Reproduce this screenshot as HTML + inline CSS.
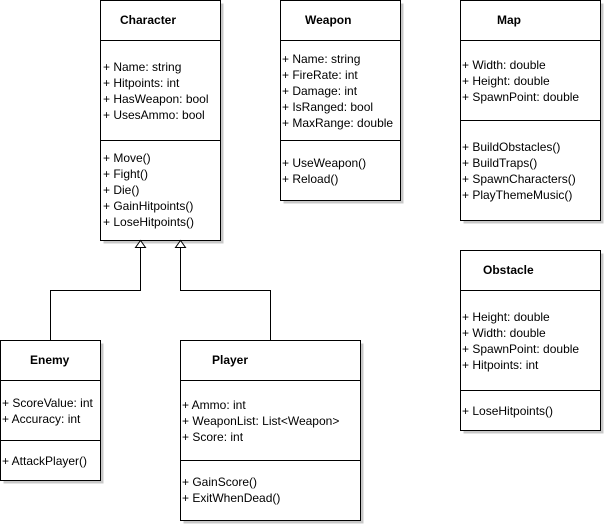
<!DOCTYPE html>
<html><head><meta charset="utf-8"><style>
html,body{margin:0;padding:0;background:#fff;}
svg{display:block;}
text{font-family:"Liberation Sans",Arial,sans-serif;font-size:12px;fill:#000;}
.t{font-weight:bold;font-size:12px;}
</style></head><body>
<svg width="605" height="525" viewBox="0 0 605 525" xmlns="http://www.w3.org/2000/svg">
<g fill="#c8c8c8">
<rect x="103.5" y="3.5" width="120" height="240"/>
<rect x="283.5" y="3.5" width="120" height="200"/>
<rect x="463.5" y="3.5" width="140" height="220"/>
<rect x="463.5" y="253.5" width="140" height="180"/>
<rect x="3.5" y="343.5" width="100" height="140"/>
<rect x="183.5" y="343.5" width="180" height="180"/>
</g>
<g fill="#fff" stroke="#000" stroke-width="1">
<rect x="100.5" y="0.5" width="120" height="240"/>
<line x1="100" y1="40.5" x2="220" y2="40.5"/><line x1="100" y1="140.5" x2="220" y2="140.5"/>
<rect x="280.5" y="0.5" width="120" height="200"/>
<line x1="280" y1="40.5" x2="400" y2="40.5"/><line x1="280" y1="140.5" x2="400" y2="140.5"/>
<rect x="460.5" y="0.5" width="140" height="220"/>
<line x1="460" y1="40.5" x2="600" y2="40.5"/><line x1="460" y1="120.5" x2="600" y2="120.5"/>
<rect x="460.5" y="250.5" width="140" height="180"/>
<line x1="460" y1="290.5" x2="600" y2="290.5"/><line x1="460" y1="390.5" x2="600" y2="390.5"/>
<rect x="0.5" y="340.5" width="100" height="140"/>
<line x1="0" y1="380.5" x2="100" y2="380.5"/><line x1="0" y1="440.5" x2="100" y2="440.5"/>
<rect x="180.5" y="340.5" width="180" height="180"/>
<line x1="180" y1="380.5" x2="360" y2="380.5"/><line x1="180" y1="460.5" x2="360" y2="460.5"/>
</g>
<g fill="none" stroke="#000">
<polyline points="140.5,247 140.5,290.5 50.5,290.5 50.5,340"/>
<polyline points="180.5,247 180.5,290.5 270.5,290.5 270.5,340"/>
<polygon fill="#fff" points="140.5,240.5 135.5,247.5 145.5,247.5"/>
<polygon fill="#fff" points="180.5,240.5 175.5,247.5 185.5,247.5"/>
</g>
<text class="t" x="120" y="24">Character</text>
<text x="103" y="71">+ Name: string</text>
<text x="103" y="87">+ Hitpoints: int</text>
<text x="103" y="103">+ HasWeapon: bool</text>
<text x="103" y="119">+ UsesAmmo: bool</text>
<text x="103" y="162">+ Move()</text>
<text x="103" y="178">+ Fight()</text>
<text x="103" y="194">+ Die()</text>
<text x="103" y="210">+ GainHitpoints()</text>
<text x="103" y="226">+ LoseHitpoints()</text>

<text class="t" x="305" y="24">Weapon</text>
<text x="282" y="63">+ Name: string</text>
<text x="282" y="79">+ FireRate: int</text>
<text x="282" y="95">+ Damage: int</text>
<text x="282" y="111">+ IsRanged: bool</text>
<text x="282" y="127">+ MaxRange: double</text>
<text x="282" y="167">+ UseWeapon()</text>
<text x="282" y="183">+ Reload()</text>

<text class="t" x="497" y="24">Map</text>
<text x="462" y="69">+ Width: double</text>
<text x="462" y="85">+ Height: double</text>
<text x="462" y="101">+ SpawnPoint: double</text>
<text x="462" y="151">+ BuildObstacles()</text>
<text x="462" y="167">+ BuildTraps()</text>
<text x="462" y="183">+ SpawnCharacters()</text>
<text x="462" y="199">+ PlayThemeMusic()</text>

<text class="t" x="483" y="274">Obstacle</text>
<text x="462" y="321">+ Height: double</text>
<text x="462" y="337">+ Width: double</text>
<text x="462" y="353">+ SpawnPoint: double</text>
<text x="462" y="369">+ Hitpoints: int</text>
<text x="462" y="415">+ LoseHitpoints()</text>

<text class="t" x="30" y="364">Enemy</text>
<text x="2" y="407">+ ScoreValue: int</text>
<text x="2" y="423">+ Accuracy: int</text>
<text x="2" y="465">+ AttackPlayer()</text>

<text class="t" x="212" y="364">Player</text>
<text x="182" y="409">+ Ammo: int</text>
<text x="182" y="425">+ WeaponList: List&lt;Weapon&gt;</text>
<text x="182" y="441">+ Score: int</text>
<text x="182" y="486">+ GainScore()</text>
<text x="182" y="502">+ ExitWhenDead()</text>
</svg>
</body></html>
